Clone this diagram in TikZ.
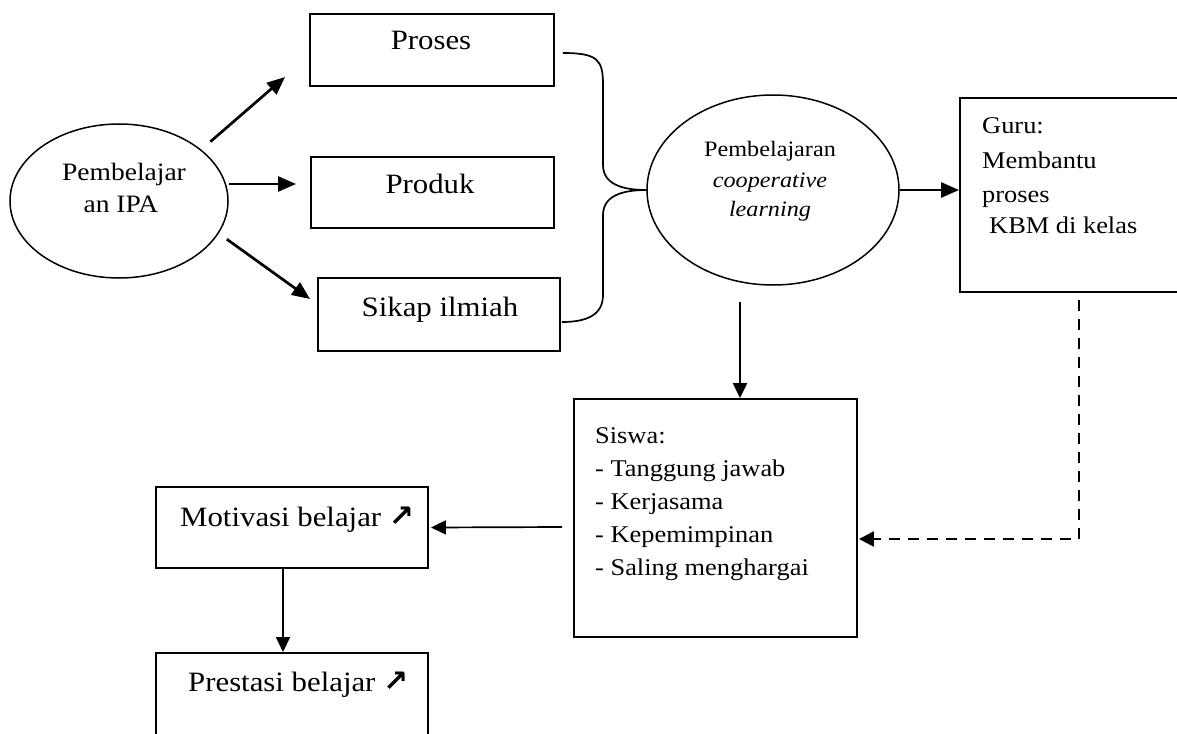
\documentclass[tikz,border=0pt]{standalone}
\usepackage{fontspec}
\setmainfont{Liberation Serif}[FakeStretch=1.1]
\newfontfamily\symf{DejaVu Sans}
\newcommand\myup{{\symf\bfseries\fontsize{30}{32}\selectfont ↗}}
\usetikzlibrary{arrows.meta,shapes.geometric,calc}
\begin{document}
\begin{tikzpicture}[x=1pt,y=-1pt,
  box/.style={draw, line width=1.9pt, rectangle, inner sep=0pt},
  oval/.style={draw, line width=1.5pt, ellipse, inner sep=0pt},
  arr/.style={line width=2.7pt, -{Triangle[length=18pt,width=15pt]}},
  arrthin/.style={line width=1.7pt, -{Triangle[length=15pt,width=14pt]}},
  dasharr/.style={line width=2.4pt, dash pattern=on 11pt off 8pt, -{Triangle[length=15pt,width=15pt]}},
  brace/.style={line width=1.7pt},
  big/.style={inner sep=0pt, font=\fontsize{28}{32}\selectfont},
  mid/.style={inner sep=0pt, font=\fontsize{24}{28}\selectfont},
  ovl/.style={inner sep=0pt, font=\fontsize{25}{29}\selectfont},
  cop/.style={inner sep=0pt, font=\fontsize{22}{26}\selectfont},
]
\useasboundingbox (0,0) rectangle (1177,733);

% nodes
\node[oval, minimum width=218pt, minimum height=154pt] (e1) at (119,201) {};
\node[ovl, anchor=base] (e1a) at (124,180) {Pembelajar};
\node[ovl, anchor=base] (e1b) at (121,212) {an IPA};

\node[box, minimum width=244pt, minimum height=72pt] (proses) at (432,50) {};
\node[big, anchor=base] (tproses) at (431,50) {Proses};
\node[box, minimum width=243pt, minimum height=71pt] (produk) at (432.5,192.5) {};
\node[big, anchor=base] (tproduk) at (430,193) {Produk};
\node[box, minimum width=242pt, minimum height=73pt] (sikap) at (439,314.5) {};
\node[big, anchor=base] (tsikap) at (440,316) {Sikap ilmiah};

\node[oval, minimum width=252pt, minimum height=190pt] (coop) at (773,190) {};
\node[cop, anchor=base] (c1) at (770,157) {Pembelajaran};
\node[cop, anchor=base] (c2) at (770,187) {\itshape cooperative};
\node[cop, anchor=base] (c3) at (770,216) {\itshape learning};

\node[box, minimum width=232pt, minimum height=194pt] (guru) at (1076,195) {};
\node[mid, anchor=base west] (g1) at (982,133) {Guru:};
\node[mid, anchor=base west] (g2) at (982,168) {Membantu};
\node[mid, anchor=base west] (g3) at (982,202) {proses};
\node[mid, anchor=base west] (g4) at (989,233) {KBM di kelas};

\node[box, minimum width=283pt, minimum height=238pt] (siswa) at (715.5,518) {};
\node[mid, anchor=base west] (s1) at (595,443) {Siswa:};
\node[mid, anchor=base west] (s2) at (595,476) {- Tanggung jawab};
\node[mid, anchor=base west] (s3) at (595,509) {- Kerjasama};
\node[mid, anchor=base west] (s4) at (595,542) {- Kepemimpinan};
\node[mid, anchor=base west] (s5) at (595,575) {- Saling menghargai};

\node[box, minimum width=272pt, minimum height=81pt] (motiv) at (292,527.5) {};
\node[big, anchor=base west] (tmotiv) at (180,526) {Motivasi belajar \myup};
\node[box, minimum width=272pt, minimum height=92pt] (prest) at (292,699) {};
\node[big, anchor=base west] (tprest) at (188,691) {Prestasi belajar \myup};

% arrow tips
\coordinate (tP) at (285,77);
\coordinate (tD) at (296,184);
\coordinate (tS) at (310,299);

% connectors
\draw[arr, shorten <=12pt] (e1.32) -- (tP);
\draw[arr] (e1.east |- tD) -- (tD);
\draw[arr, shorten <=10pt] (e1.-18) -- (tS);

\draw[brace] ($(proses.east)+(8,3)$) .. controls (598,53) and (603,60) .. (603,85)
  -- (603,165) .. controls (603,184) and (622,190) .. (coop.west);
\draw[brace] (coop.west) .. controls (622,190) and (603,196) .. (603,215)
  -- (603,295) .. controls (603,316) and (585,322) .. ($(sikap.east)+(1,7.5)$);

\draw[arr] (coop.east) -- (coop.east -| guru.west);
\draw[arrthin, line width=2.2pt] ($(coop.south)+(-33,16)$) -- ($(siswa.north)+(24.5,0)$);
\draw[dasharr] ($(guru.south)+(3,7)$) |- ($(siswa.east)+(1,21)$);
\draw[arrthin] ($(siswa.west)+(-11,9)$) -- ($(motiv.east)+(2,0)$);
\draw[arrthin] ($(motiv.south)+(-9,0)$) -- ($(prest.north)+(-9,0)$);
\end{tikzpicture}
\end{document}
